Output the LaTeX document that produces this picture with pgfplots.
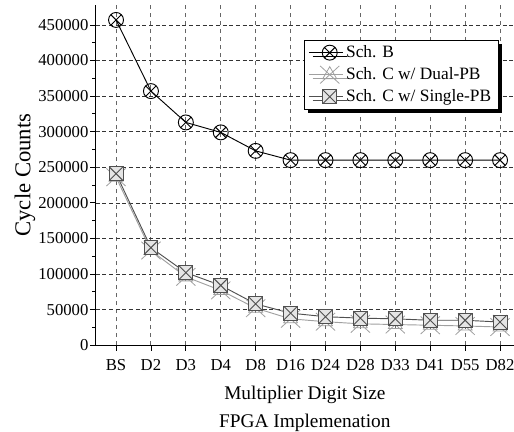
\documentclass[border=0pt]{standalone}
\usepackage{fontspec}
\setmainfont{Liberation Serif}
\usepackage{pgfplots}
\pgfplotsset{compat=1.18}
\usetikzlibrary{shadows,plotmarks}
\definecolor{cB}{HTML}{000000}
\definecolor{cD}{HTML}{A0A0A0}
\definecolor{cS}{HTML}{505050}
\pgfdeclareplotmark{boxx}{%
  \pgfpathrectangle{\pgfpoint{-\pgfplotmarksize}{-\pgfplotmarksize}}{\pgfpoint{2\pgfplotmarksize}{2\pgfplotmarksize}}%
  \pgfusepathqfillstroke
  \pgfpathmoveto{\pgfpoint{-\pgfplotmarksize}{-\pgfplotmarksize}}%
  \pgfpathlineto{\pgfpoint{\pgfplotmarksize}{\pgfplotmarksize}}%
  \pgfpathmoveto{\pgfpoint{-\pgfplotmarksize}{\pgfplotmarksize}}%
  \pgfpathlineto{\pgfpoint{\pgfplotmarksize}{-\pgfplotmarksize}}%
  \pgfusepathqstroke}
\pgfdeclareplotmark{trix}{%
  \pgfpathmoveto{\pgfpoint{0pt}{\pgfplotmarksize}}%
  \pgfpathlineto{\pgfpoint{-0.866\pgfplotmarksize}{-0.5\pgfplotmarksize}}%
  \pgfpathlineto{\pgfpoint{0.866\pgfplotmarksize}{-0.5\pgfplotmarksize}}%
  \pgfpathclose
  \pgfpathmoveto{\pgfpoint{-1.2\pgfplotmarksize}{-1.1\pgfplotmarksize}}%
  \pgfpathlineto{\pgfpoint{1.2\pgfplotmarksize}{1.1\pgfplotmarksize}}%
  \pgfpathmoveto{\pgfpoint{-1.2\pgfplotmarksize}{1.1\pgfplotmarksize}}%
  \pgfpathlineto{\pgfpoint{1.2\pgfplotmarksize}{-1.1\pgfplotmarksize}}%
  \pgfusepathqstroke}
\begin{document}
\begin{tikzpicture}
\begin{axis}[
  scale only axis,
  width=313.5pt, height=255pt,
  xmin=-0.58, xmax=11.4,
  ymin=0, ymax=478000,
  axis lines=left,
  axis line style={-, line width=0.8pt},
  xtick={0,...,11},
  xticklabels={BS,D2,D3,D4,D8,D16,D24,D28,D33,D41,D55,D82},
  ytick={0,50000,...,450000},
  minor y tick num=1,
  tick align=outside,
  tick style={black, line width=0.6pt},
  major tick length=4pt, minor tick length=2.5pt,
  scaled y ticks=false,
  yticklabel style={font=\fontsize{12.5}{13}\selectfont, xshift=2pt, /pgf/number format/.cd, fixed, set thousands separator={}, assume math mode=true},
  xticklabel style={font=\fontsize{12.5}{13}\selectfont, yshift=-3pt},
  xmajorgrids, ymajorgrids,
  x grid style={dashed, gray!80!black, line width=0.7pt},
  y grid style={densely dashed, black!80, line width=0.4pt},
  xlabel={Multiplier Digit Size},
  ylabel={Cycle Counts},
  xlabel style={font=\fontsize{14.5}{16}\selectfont, at={(axis description cs:0.5,0)}, anchor=base, yshift=-41pt},
  ylabel style={font=\fontsize{17}{19}\selectfont, at={(axis description cs:0,0.5)}, anchor=center, yshift=53pt},
  legend style={at={(0.962,0.897)}, anchor=north east, draw=black, fill=white,
    font=\fontsize{13}{14}\selectfont, row sep=2pt, inner xsep=3pt, inner ysep=2pt,
    drop shadow={shadow xshift=3pt, shadow yshift=-3pt, fill=black, opacity=1}},
  legend cell align=left,
  legend image code/.code={\draw[mark repeat=2,mark phase=2] plot coordinates {(0cm,0cm) (0.55cm,0cm) (0.9cm,0cm)};},
  clip=false,
]
\addplot[cB, line width=0.7pt, mark=otimes, mark size=5.6pt, mark options={line width=0.7pt}] coordinates {
(0,457000) (1,357000) (2,313000) (3,299000) (4,273000) (5,260000) (6,260000) (7,260000) (8,260000) (9,260000) (10,260000) (11,260000)};
\addlegendentry{Sch. B}
\addplot[cD, line width=0.7pt, mark=trix, mark size=6pt, mark options={line width=0.6pt}] coordinates {
(0,236000) (1,133000) (2,96000) (3,77000) (4,52000) (5,37000) (6,33000) (7,30000) (8,29000) (9,28000) (10,27000) (11,25500)};
\addlegendentry{Sch. C w/ Dual-PB}
\addplot[cS, line width=0.7pt, mark=boxx, mark size=5.2pt, mark options={line width=0.7pt, fill=gray!20}] coordinates {
(0,241000) (1,137000) (2,102000) (3,84000) (4,58000) (5,45000) (6,40000) (7,38000) (8,37000) (9,35000) (10,35000) (11,32500)};
\addlegendentry{Sch. C w/ Single-PB}
\node[font=\fontsize{14.5}{16}\selectfont, anchor=base, yshift=-62pt] at (axis description cs:0.5,0) {FPGA Implemenation};
\coordinate (ll) at (axis description cs:0,0);
\coordinate (ur) at (axis description cs:1,1);
\end{axis}
\pgfresetboundingbox
\path[use as bounding box] ([shift={(-71.8pt,-64.5pt)}]ll) rectangle ([shift={(0pt,3.75pt)}]ur);
\end{tikzpicture}
\end{document}
